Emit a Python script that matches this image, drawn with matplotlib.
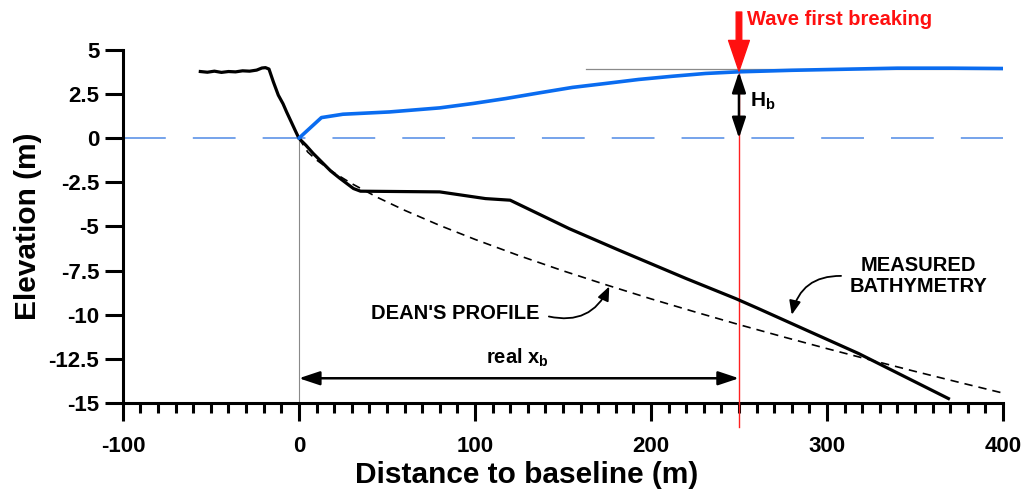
import matplotlib
matplotlib.use("Agg")
import matplotlib.pyplot as plt
from matplotlib.ticker import MultipleLocator, FuncFormatter

plt.rcParams['font.family'] = ['Liberation Sans', 'DejaVu Sans']
plt.rcParams['font.weight'] = 'bold'
plt.rcParams['mathtext.fontset'] = 'custom'
plt.rcParams['mathtext.rm'] = 'Liberation Sans:bold'
plt.rcParams['mathtext.bf'] = 'Liberation Sans:bold'
plt.rcParams['mathtext.it'] = 'Liberation Sans:bold'

# Measured bathymetry (distance m, elevation m)
bathy_x = [-56, -52, -48, -44, -40, -36, -32, -28, -24, -21, -19, -17, -14.5, -11.7, -9, -7,
           -4, -2, 0, 4, 8, 13, 18, 23, 27, 31, 35, 80, 106, 120, 153.5, 182, 220, 248,
           261, 290, 318, 345, 369]
bathy_y = [3.78, 3.74, 3.80, 3.73, 3.78, 3.76, 3.82, 3.80, 3.86, 3.98, 4.00, 3.92, 3.19, 2.44,
           1.95, 1.49, 0.85, 0.42, 0.0, -0.40, -0.85, -1.35, -1.85, -2.25, -2.55, -2.85, -3.0,
           -3.04, -3.42, -3.51, -5.12, -6.35, -7.95, -9.08, -9.65, -10.95, -12.2, -13.55, -14.75]

# Dean's equilibrium profile
dean_x = [0, 5, 10, 20, 30, 45, 60, 80, 100, 125, 150, 175, 200, 225, 250, 275, 300, 325,
          350, 375, 400]
dean_y = [0.0, -0.78, -1.23, -1.96, -2.57, -3.37, -4.08, -4.94, -5.73, -6.65, -7.51, -8.32,
          -9.10, -9.84, -10.56, -11.25, -11.92, -12.57, -13.21, -13.83, -14.44]

# Wave height envelope
wave_x = [0, 12.8, 25, 51.5, 80, 99, 117.6, 136.5, 155.4, 174, 193, 212, 231, 249, 280,
          310, 340, 370, 400]
wave_y = [0.0, 1.17, 1.36, 1.49, 1.72, 1.97, 2.25, 2.57, 2.88, 3.10, 3.33, 3.51, 3.67, 3.76,
          3.85, 3.91, 3.97, 3.97, 3.95]

x_break = 250
h_break = 3.76
wave_level = 3.95

fig = plt.figure(figsize=(10.24, 4.93), dpi=100)
ax = fig.add_axes([0.120, 0.1826, 0.8595, 0.716])

ax.set_xlim(-100, 400)
ax.set_ylim(-15, 5)

# still water level
ax.plot([-100, 400], [0, 0], color='#4f8ae6', lw=1.1, dashes=(28, 17.7), zorder=2)
# reference lines
ax.plot([0, 0], [0, -15], color='#8a8a8a', lw=0.8, zorder=1)
ax.plot([163, 400], [wave_level, wave_level], color='#8a8a8a', lw=0.9, zorder=1)
ax.plot([x_break, x_break], [h_break, -16.35], color='#ff2020', lw=1.0, zorder=3,
        clip_on=False)

ax.plot(dean_x, dean_y, color='black', lw=1.2, dashes=(5, 3.6), zorder=4)
ax.plot(bathy_x, bathy_y, color='black', lw=2.3, zorder=5, solid_joinstyle='round')
ax.plot(wave_x, wave_y, color='#0a6cf0', lw=2.6, zorder=6, solid_capstyle='round')

# breaking point arrow
ax.annotate('', xy=(x_break, h_break + 0.05), xytext=(x_break, 7.15),
            arrowprops=dict(arrowstyle='simple,head_length=1.1,head_width=0.75,tail_width=0.2',
                            color='#ff1010', shrinkA=0, shrinkB=0, mutation_scale=20),
            annotation_clip=False, zorder=8)
ax.text(254.5, 6.7, 'Wave first breaking', color='#ff1010', fontsize=14.5,
        fontweight='bold', ha='left', va='center', clip_on=False)

# breaking wave height
ax.annotate('', xy=(x_break, 0.0), xytext=(x_break, h_break),
            arrowprops=dict(arrowstyle='<|-|>,head_length=0.9,head_width=0.3',
                            color='black', lw=1.8, shrinkA=0, shrinkB=0, mutation_scale=14),
            zorder=7)
ax.text(256, 2.1, r'$\mathbf{H_b}$', fontsize=15, ha='left', va='center')

# breaking distance
ax.annotate('', xy=(0, -13.6), xytext=(x_break, -13.6),
            arrowprops=dict(arrowstyle='<|-|>,head_length=0.9,head_width=0.3',
                            color='black', lw=1.8, shrinkA=0, shrinkB=0, mutation_scale=14),
            zorder=7)
ax.text(124, -12.45, r'real $\mathbf{x_b}$', fontsize=14.5, ha='center', va='center')

# labels for the profiles
ax.text(89, -9.95, "DEAN'S PROFILE", fontsize=14.5, fontweight='bold',
        ha='center', va='center')
ax.annotate('', xy=(176.3, -8.4), xytext=(142, -10.1),
            arrowprops=dict(arrowstyle='-|>,head_length=0.6,head_width=0.25',
                            color='black', lw=1.3, shrinkA=0, shrinkB=0,
                            connectionstyle='arc3,rad=0.4', mutation_scale=14))
ax.text(352, -7.8, 'MEASURED\nBATHYMETRY', fontsize=14.5, fontweight='bold',
        ha='center', va='center', multialignment='center', linespacing=1.1)
ax.annotate('', xy=(280, -10.0), xytext=(308, -7.8),
            arrowprops=dict(arrowstyle='-|>,head_length=0.6,head_width=0.25',
                            color='black', lw=1.3, shrinkA=0, shrinkB=0,
                            connectionstyle='arc3,rad=0.4', mutation_scale=14))

# axes styling
for side in ('top', 'right'):
    ax.spines[side].set_visible(False)
for side in ('left', 'bottom'):
    ax.spines[side].set_linewidth(2.2)

ax.xaxis.set_major_locator(MultipleLocator(100))
ax.xaxis.set_minor_locator(MultipleLocator(10))
ax.yaxis.set_major_locator(MultipleLocator(2.5))
ax.yaxis.set_major_formatter(FuncFormatter(lambda v, p: '%g' % v))
ax.xaxis.set_major_formatter(FuncFormatter(lambda v, p: '%g' % v))
ax.tick_params(axis='both', which='major', length=13, width=2.2, labelsize=16,
               direction='out')
ax.tick_params(axis='x', which='major', pad=11)
ax.tick_params(axis='y', which='major', pad=4)
ax.tick_params(axis='x', which='minor', length=7, width=2.2, direction='out')
for lab in ax.get_xticklabels() + ax.get_yticklabels():
    lab.set_fontweight('bold')

ax.set_xlabel('Distance to baseline (m)', fontsize=21.5, fontweight='bold', labelpad=4)
ax.xaxis.set_label_coords(0.459, -0.205)
ax.xaxis.label.set_verticalalignment('center')
ax.set_ylabel('Elevation (m)', fontsize=21.5, fontweight='bold')
ax.yaxis.set_label_coords(-0.1075, 0.50)
ax.yaxis.label.set_verticalalignment('center')

fig.savefig('out.png', dpi=100)
